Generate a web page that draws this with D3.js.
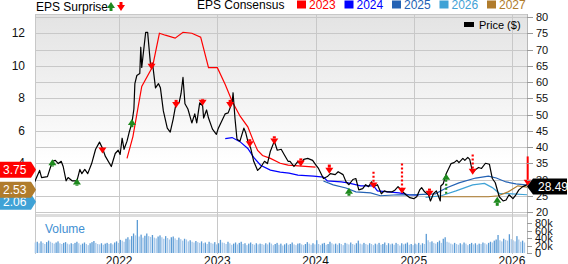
<!DOCTYPE html>
<html lang="en">
<head>
<meta charset="utf-8">
<title>EPS Surprise, EPS Consensus and Price</title>
<script src="https://d3js.org/d3.v7.min.js"></script>
<style>
  body { margin: 0; background: #fff; }
  svg { display: block; font-family: "Liberation Sans", Arial, sans-serif; }
</style>
</head>
<body>
<div id="chart"></div>
<script>
/* global d3 */

// ---- data ----
var yearTicks = [2022, 2023, 2024, 2025, 2026];
var priceTicks = [20, 25, 30, 35, 40, 45, 50, 55, 60, 65, 70, 75, 80];
var epsTicks = [2, 4, 6, 8, 10, 12];
var volTicks = [0, 20, 40, 60, 80];
var volTickLabels = ["0", "20k", "40k", "60k", "80k"];

// [year, price]
var price = [
  [2021.14, 29.3], [2021.19, 32.8], [2021.21, 30.6], [2021.27, 30.9], [2021.32, 35.6], [2021.35, 35.9],
  [2021.38, 34.9], [2021.41, 35.6], [2021.43, 34.0], [2021.46, 29.6], [2021.48, 30.6], [2021.52, 29.6],
  [2021.57, 29.6], [2021.60, 33.1], [2021.62, 31.8], [2021.65, 33.1], [2021.68, 31.8], [2021.72, 34.9],
  [2021.76, 39.3], [2021.80, 41.5], [2021.83, 39.6], [2021.86, 37.1], [2021.92, 34.0], [2021.96, 38.0],
  [2021.99, 39.0], [2022.01, 37.7], [2022.03, 42.7], [2022.05, 39.3], [2022.08, 41.8], [2022.10, 44.3],
  [2022.13, 47.4], [2022.15, 51.7], [2022.16, 59.5], [2022.18, 62.0], [2022.21, 62.6], [2022.22, 70.7],
  [2022.23, 64.5], [2022.27, 75.3], [2022.29, 75.3], [2022.32, 65.1], [2022.34, 65.7], [2022.37, 58.2],
  [2022.40, 59.5], [2022.42, 58.2], [2022.45, 51.1], [2022.49, 45.8], [2022.52, 44.6], [2022.55, 48.6],
  [2022.58, 53.6], [2022.61, 53.6], [2022.63, 56.4], [2022.65, 61.4], [2022.67, 53.3], [2022.70, 51.7],
  [2022.74, 47.4], [2022.77, 50.2], [2022.79, 47.4], [2022.82, 53.6], [2022.85, 52.7], [2022.86, 48.9],
  [2022.89, 51.4], [2022.91, 48.9], [2022.95, 45.5], [2022.99, 43.9], [2023.01, 45.8], [2023.08, 50.2],
  [2023.11, 50.5], [2023.15, 53.6], [2023.16, 56.7], [2023.18, 48.6], [2023.20, 42.4], [2023.23, 41.8],
  [2023.27, 45.8], [2023.29, 44.3], [2023.31, 41.8], [2023.34, 39.6], [2023.37, 35.6], [2023.41, 32.8],
  [2023.44, 33.7], [2023.48, 35.6], [2023.51, 34.9], [2023.54, 38.7], [2023.58, 41.8], [2023.61, 39.0],
  [2023.65, 39.3], [2023.68, 37.7], [2023.72, 35.6], [2023.74, 35.6], [2023.78, 34.0], [2023.82, 35.6],
  [2023.85, 34.6], [2023.88, 36.2], [2023.92, 36.5], [2023.97, 35.9], [2024.00, 34.6], [2024.03, 33.4],
  [2024.08, 30.3], [2024.12, 30.9], [2024.15, 31.8], [2024.20, 31.5], [2024.23, 32.4], [2024.28, 31.5],
  [2024.31, 29.3], [2024.34, 28.4], [2024.38, 30.0], [2024.41, 30.3], [2024.44, 26.8], [2024.48, 27.2],
  [2024.51, 28.4], [2024.54, 27.8], [2024.57, 29.3], [2024.59, 27.8], [2024.63, 28.4], [2024.67, 25.6],
  [2024.70, 26.5], [2024.73, 26.2], [2024.78, 26.2], [2024.81, 26.8], [2024.84, 27.8], [2024.89, 26.2],
  [2024.92, 25.3], [2024.96, 24.4], [2025.00, 24.1], [2025.03, 24.7], [2025.06, 26.8], [2025.08, 27.5],
  [2025.11, 26.2], [2025.15, 25.3], [2025.17, 23.4], [2025.20, 25.6], [2025.23, 26.5], [2025.27, 23.4],
  [2025.275, 28.0], [2025.30, 28.7], [2025.33, 31.8], [2025.38, 34.9], [2025.41, 35.2], [2025.44, 35.9],
  [2025.46, 35.2], [2025.50, 36.5], [2025.52, 35.9], [2025.55, 36.8], [2025.57, 36.2], [2025.60, 32.1],
  [2025.63, 33.1], [2025.66, 33.7], [2025.69, 33.4], [2025.73, 35.0], [2025.77, 34.7], [2025.80, 30.3],
  [2025.83, 29.0], [2025.87, 24.7], [2025.91, 23.4], [2025.94, 23.7], [2025.97, 25.3], [2026.01, 24.1],
  [2026.04, 25.3], [2026.07, 26.8], [2026.11, 27.8], [2026.16, 28.49]
];
var lastPrice = 28.49;

// consensus EPS by fiscal year, [year, eps]
var eps2023 = [[2022.08, 4.3], [2022.14, 5.64], [2022.23, 8.73], [2022.34, 9.94], [2022.41, 12.0], [2022.47, 11.88],
  [2022.57, 11.7], [2022.65, 12.06], [2022.74, 12.0], [2022.83, 11.76], [2022.91, 9.88], [2023.0, 9.88],
  [2023.08, 8.85], [2023.15, 7.82], [2023.23, 6.91], [2023.31, 6.24], [2023.37, 5.33], [2023.41, 4.79],
  [2023.46, 4.48], [2023.54, 4.3], [2023.64, 4.0], [2023.72, 3.88], [2024.0, 3.76]];
var eps2024 = [[2023.08, 5.52], [2023.15, 5.58], [2023.23, 5.33], [2023.31, 4.91], [2023.37, 4.36], [2023.44, 3.88],
  [2023.54, 3.58], [2023.64, 3.45], [2023.73, 3.39], [2023.82, 3.27], [2023.98, 3.21], [2024.08, 3.15],
  [2024.12, 2.91], [2024.26, 2.85], [2024.33, 2.79], [2024.46, 2.61], [2024.59, 2.61], [2024.63, 2.3],
  [2024.85, 2.18], [2024.95, 2.06], [2025.05, 2.03]];
var eps2025 = [[2024.08, 2.91], [2024.18, 2.67], [2024.31, 2.48], [2024.41, 2.24], [2024.56, 2.18], [2024.66, 2.0],
  [2024.84, 2.06], [2024.97, 2.06], [2025.22, 2.12], [2025.33, 2.48], [2025.46, 2.79], [2025.63, 3.09],
  [2025.76, 3.21], [2025.84, 3.09], [2025.94, 2.85], [2026.04, 2.73], [2026.14, 2.67]];
var eps2026 = [[2025.12, 1.9], [2025.28, 2.0], [2025.43, 2.3], [2025.60, 2.67], [2025.72, 2.76], [2025.80, 2.5],
  [2025.87, 2.15], [2026.0, 2.12], [2026.16, 2.06]];
var eps2027 = [[2025.27, 1.94], [2025.76, 1.94], [2025.86, 2.0], [2025.96, 2.24], [2026.06, 2.61], [2026.16, 2.53]];

var consensusNames = ["2023", "2024", "2025", "2026", "2027"];
var consensusColors = ["#ff0000", "#0000ff", "#2462b4", "#3fa2d6", "#b07c2c"];

// current consensus value boxes on the left
var epsBoxValues = [2.06, 2.53, 3.75];
var epsBoxColors = ["#3fa2d6", "#b07c2c", "#ff0000"];

// EPS surprise arrows: year, top and bottom (in price units), direction, dashed stem
var surpriseYears  = [2021.32, 2021.57, 2021.83, 2022.13, 2022.33, 2022.58, 2022.85, 2023.13, 2023.33, 2023.58,
                      2023.85, 2024.14, 2024.34, 2024.59, 2024.88, 2025.16, 2025.33, 2025.60, 2025.85, 2026.16];
var surpriseTop    = [36.2, 30.3, 39.9, 48.6, 66.0, 54.5, 54.8, 54.5, 42.4, 43.3,
                      36.5, 34.6, 27.5, 32.4, 34.9, 27.2, 31.8, 37.7, 24.7, 37.1];
var surpriseBottom = [34.0, 28.1, 38.0, 46.1, 63.8, 52.0, 52.7, 52.0, 39.9, 40.8,
                      34.0, 31.8, 25.0, 27.2, 25.6, 24.7, 25.6, 31.5, 21.9, 28.1];
var surpriseDir    = ["up", "up", "down", "up", "down", "down", "down", "down", "down", "down",
                      "down", "down", "up", "down", "down", "down", "up", "down", "up", "down"];
var surpriseDashed = [false, false, false, false, false, false, false, false, false, false,
                      false, false, false, true, true, false, true, true, false, false];

// weekly volume (thousands)
var volumeStart = 2021.14;
var volume = [
  28, 30, 26, 31, 27, 24, 29, 33, 30, 27, 25, 28, 31, 26, 24, 27, 29, 25, 23, 26,
  24, 27, 30, 26, 22, 25, 28, 24, 21, 26, 29, 32, 27, 24, 23, 26, 22, 25, 27, 24,
  26, 23, 28, 31, 27, 35, 33, 30, 38, 42, 36, 45, 52, 47, 88, 44, 49, 41, 46, 52,
  45, 43, 48, 41, 39, 44, 47, 42, 38, 45, 40, 36, 42, 44, 39, 35, 41, 37, 33, 38,
  36, 31, 34, 30, 28, 32, 29, 27, 31, 26, 28, 24, 30, 27, 25, 29, 23, 26, 35, 28,
  27, 24, 30, 26, 22, 25, 28, 23, 27, 30, 24, 26, 21, 25, 28, 24, 22, 26, 23, 25,
  24, 22, 26, 23, 28, 25, 21, 24, 27, 22, 25, 20, 23, 26, 22, 24, 28, 23, 21, 25,
  26, 23, 21, 24, 29, 25, 22, 26, 23, 34, 24, 21, 25, 27, 22, 24, 30, 26, 23, 25,
  22, 26, 24, 21, 27, 25, 23, 28, 24, 22, 26, 33, 25, 23, 27, 24, 22, 26, 24, 21,
  25, 23, 27, 22, 24, 28, 21, 26, 23, 25, 22, 27, 24, 20, 26, 23, 25, 28, 22, 24,
  21, 25, 23, 27, 22, 26, 24, 51, 34, 29, 31, 27, 25, 29, 33, 27, 38, 42, 30, 28,
  25, 23, 27, 24, 22, 26, 23, 28, 25, 21, 24, 27, 23, 26, 22, 25, 24, 28, 26, 23,
  27, 30, 28, 33, 36, 48, 34, 31, 38, 35, 33, 50, 37, 34, 31, 45, 36, 30, 33, 28
];

// ---- layout ----
var width = 568, height = 264;
var plotLeft = 35, plotRight = 527, plotTop = 14, plotBottom = 212;
var volBottom = 254;

var x = d3.scaleLinear().domain([2021.143, 2026.153]).range([plotLeft, plotRight]);
var yPrice = d3.scaleLinear().domain([20, 80]).range([plotBottom, 17]);
var yEps = d3.scaleLinear().domain([1, 13]).range([plotBottom, 17]);
var yVol = d3.scaleLinear().domain([0, 80]).range([253, 223]);

var svg = d3.select("#chart").append("svg")
    .attr("width", width)
    .attr("height", height);

var defs = svg.append("defs");
var grad = defs.append("linearGradient")
    .attr("id", "bg")
    .attr("x1", 0).attr("y1", 0).attr("x2", 0).attr("y2", 1);
grad.append("stop").attr("offset", "0%").attr("stop-color", "#e3e3e3");
grad.append("stop").attr("offset", "75%").attr("stop-color", "#ffffff");

defs.append("clipPath").attr("id", "plotClip")
  .append("rect")
    .attr("x", plotLeft).attr("y", plotTop)
    .attr("width", plotRight - plotLeft).attr("height", plotBottom - plotTop);

// panels
svg.append("rect")
    .attr("x", plotLeft).attr("y", plotTop)
    .attr("width", plotRight - plotLeft).attr("height", plotBottom - plotTop)
    .attr("fill", "url(#bg)");
svg.append("rect")
    .attr("x", plotLeft).attr("y", 214)
    .attr("width", plotRight - plotLeft).attr("height", 3)
    .attr("fill", "#dddddd");

// horizontal grid
svg.append("g").selectAll("line")
  .data(priceTicks)
  .join("line")
    .attr("x1", plotLeft).attr("x2", plotRight)
    .attr("y1", function(d) { return Math.round(yPrice(d)) + 0.5; })
    .attr("y2", function(d) { return Math.round(yPrice(d)) + 0.5; })
    .attr("stroke", "#c8c8c8");
svg.append("line")
    .attr("x1", plotLeft).attr("x2", plotRight)
    .attr("y1", plotTop + 0.5).attr("y2", plotTop + 0.5)
    .attr("stroke", "#c8c8c8");

// vertical grid
svg.append("g").selectAll("line")
  .data(yearTicks)
  .join("line")
    .attr("x1", function(d) { return Math.round(x(d)) + 0.5; })
    .attr("x2", function(d) { return Math.round(x(d)) + 0.5; })
    .attr("y1", plotTop).attr("y2", volBottom)
    .attr("stroke", "#c8c8c8");
svg.append("line")
    .attr("x1", plotLeft + 0.5).attr("x2", plotLeft + 0.5)
    .attr("y1", plotTop).attr("y2", volBottom)
    .attr("stroke", "#c8c8c8");
svg.append("line")
    .attr("x1", plotRight + 0.5).attr("x2", plotRight + 0.5)
    .attr("y1", plotTop).attr("y2", volBottom)
    .attr("stroke", "#b8b8b8");

// volume bars
svg.append("g").selectAll("rect")
  .data(volume)
  .join("rect")
    .attr("x", function(d, i) { return x(volumeStart + i / 52); })
    .attr("y", function(d) { return yVol(d); })
    .attr("width", 1.3)
    .attr("height", function(d) { return yVol(0) - yVol(d); })
    .attr("fill", function(d, i) { return i > 0 && d > volume[i - 1] ? "#5b9bd5" : "#a7c8ea"; });

svg.append("text")
    .attr("x", 45).attr("y", 233)
    .attr("font-size", 12)
    .attr("fill", "#3f8fd2")
    .text("Volume");

// consensus lines
var epsLine = d3.line()
    .x(function(d) { return x(d[0]); })
    .y(function(d) { return yEps(d[1]); });

var plot = svg.append("g").attr("clip-path", "url(#plotClip)");
[eps2023, eps2024, eps2025, eps2026, eps2027].forEach(function(series, i) {
  plot.append("path")
      .attr("d", epsLine(series))
      .attr("fill", "none")
      .attr("stroke", consensusColors[i])
      .attr("stroke-width", 1.2);
});

// price
var priceLine = d3.line()
    .x(function(d) { return x(d[0]); })
    .y(function(d) { return yPrice(d[1]); });

plot.append("path")
    .attr("d", priceLine(price))
    .attr("fill", "none")
    .attr("stroke", "#000")
    .attr("stroke-width", 1.2)
    .attr("stroke-linejoin", "round");

// surprise arrows
function drawArrow(g, cx, y0, y1, dir, dashed, color) {
  var head = 6, hw = 4;
  var stemTop, stemBottom, tip, base;
  if (dir === "down") {
    tip = y1; base = y1 - head; stemTop = y0; stemBottom = base;
  } else {
    tip = y0; base = y0 + head; stemTop = base; stemBottom = y1;
  }
  if (stemBottom > stemTop) {
    if (dashed) {
      g.append("line")
          .attr("x1", cx).attr("x2", cx).attr("y1", stemTop).attr("y2", stemBottom)
          .attr("stroke", color).attr("stroke-width", 2.2)
          .attr("stroke-dasharray", "2,2");
    } else {
      var w = (stemBottom - stemTop) > 10 ? 2 : 3;
      g.append("rect")
          .attr("x", cx - w / 2).attr("y", stemTop)
          .attr("width", w).attr("height", stemBottom - stemTop)
          .attr("fill", color);
    }
  }
  g.append("path")
      .attr("d", "M" + (cx - hw) + "," + base + "L" + (cx + hw) + "," + base + "L" + cx + "," + tip + "Z")
      .attr("fill", color);
}

var arrows = svg.append("g");
surpriseYears.forEach(function(yr, i) {
  var color = surpriseDir[i] === "up" ? "#1e8a1e" : "#ff0000";
  drawArrow(arrows, x(yr), yPrice(surpriseTop[i]), yPrice(surpriseBottom[i]),
            surpriseDir[i], surpriseDashed[i], color);
});

// right price axis
var rAxis = svg.append("g");
rAxis.selectAll("line")
  .data(priceTicks)
  .join("line")
    .attr("x1", plotRight).attr("x2", plotRight + 6)
    .attr("y1", function(d) { return Math.round(yPrice(d)) + 0.5; })
    .attr("y2", function(d) { return Math.round(yPrice(d)) + 0.5; })
    .attr("stroke", "#999");
rAxis.selectAll("text")
  .data(priceTicks)
  .join("text")
    .attr("x", 536)
    .attr("y", function(d) { return yPrice(d) + 4; })
    .attr("font-size", 11)
    .attr("fill", "#111")
    .text(function(d) { return d; });

// volume axis
var vAxis = svg.append("g");
vAxis.selectAll("line")
  .data(volTicks)
  .join("line")
    .attr("x1", plotRight).attr("x2", plotRight + 5)
    .attr("y1", function(d) { return Math.round(yVol(d)) + 0.5; })
    .attr("y2", function(d) { return Math.round(yVol(d)) + 0.5; })
    .attr("stroke", "#999");
vAxis.selectAll("text")
  .data(volTicks)
  .join("text")
    .attr("x", 535)
    .attr("y", function(d) { return yVol(d) + 4; })
    .attr("font-size", 11)
    .attr("fill", "#111")
    .text(function(d, i) { return volTickLabels[i]; });

// left eps axis
svg.append("g").selectAll("text")
  .data(epsTicks)
  .join("text")
    .attr("x", 25)
    .attr("y", function(d) { return yEps(d) + 4; })
    .attr("text-anchor", "end")
    .attr("font-size", 12)
    .attr("fill", "#111")
    .text(function(d) { return d; });

// x axis labels
svg.append("g").selectAll("text")
  .data(yearTicks)
  .join("text")
    .attr("x", function(d) { return x(d); })
    .attr("y", 265)
    .attr("text-anchor", "middle")
    .attr("font-size", 12)
    .attr("fill", "#111")
    .text(function(d) { return d; });

// left consensus boxes (lowest drawn first, pushed apart when overlapping)
var boxY = epsBoxValues.map(function(v) { return yEps(v) + 2.5; });
for (var i = boxY.length - 2; i >= 0; i--) {
  if (boxY[i] - boxY[i + 1] < 12) boxY[i] = boxY[i + 1] + 12;
}
var boxes = svg.append("g");
epsBoxValues.forEach(function(v, i) {
  var cy = boxY[i];
  boxes.append("path")
      .attr("d", "M0," + (cy - 8) + "H31L36," + cy + "L31," + (cy + 8) + "H0Z")
      .attr("fill", epsBoxColors[i]);
  boxes.append("text")
      .attr("x", 3).attr("y", cy + 4.5)
      .attr("font-size", 12)
      .attr("fill", "#fff")
      .text(v.toFixed(2));
});

// right last-price box
var py = yPrice(lastPrice) + 2;
svg.append("path")
    .attr("d", "M527," + py + "L533," + (py - 8) + "H567V" + (py + 8) + "H533Z")
    .attr("fill", "#000");
svg.append("text")
    .attr("x", 538).attr("y", py + 4.5)
    .attr("font-size", 12)
    .attr("fill", "#fff")
    .text(lastPrice.toFixed(2));

// legend
var legend = svg.append("g");
legend.append("text")
    .attr("x", 36).attr("y", 11)
    .attr("font-size", 12)
    .attr("fill", "#000")
    .text("EPS Surprise");
drawArrow(legend, 111, 2, 11, "up", false, "#1e8a1e");
drawArrow(legend, 121, 2, 11, "down", false, "#ff0000");

legend.append("text")
    .attr("x", 197).attr("y", 9)
    .attr("font-size", 12)
    .attr("fill", "#000")
    .text("EPS Consensus");

consensusNames.forEach(function(name, i) {
  var lx = 297 + i * 47.5;
  legend.append("rect")
      .attr("x", lx).attr("y", 0.5)
      .attr("width", 9).attr("height", 8)
      .attr("fill", consensusColors[i]);
  legend.append("text")
      .attr("x", lx + 12).attr("y", 9)
      .attr("font-size", 12)
      .attr("fill", consensusColors[i])
      .text(name);
});

legend.append("rect")
    .attr("x", 464).attr("y", 22)
    .attr("width", 10).attr("height", 5)
    .attr("fill", "#000");
legend.append("text")
    .attr("x", 479).attr("y", 29)
    .attr("font-size", 11)
    .attr("fill", "#000")
    .text("Price ($)");
</script>
</body>
</html>
